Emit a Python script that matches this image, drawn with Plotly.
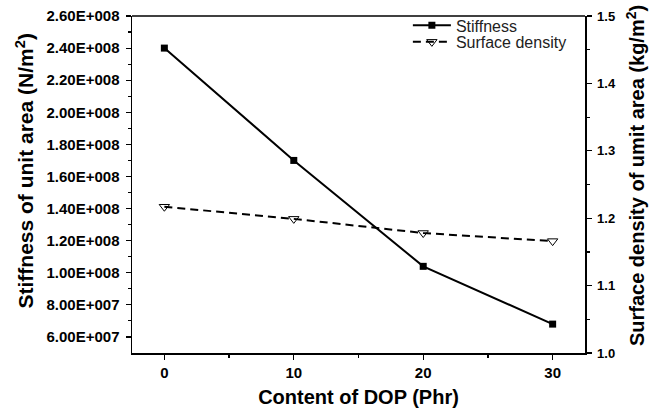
import plotly.graph_objects as go

dop = [0, 10, 20, 30]
stiffness = [2.40e8, 1.70e8, 1.04e8, 6.8e7]
surface_density = [1.217, 1.199, 1.178, 1.166]

left_tickvals = [6e7, 8e7, 1e8, 1.2e8, 1.4e8, 1.6e8, 1.8e8, 2.0e8, 2.2e8, 2.4e8, 2.6e8]
left_ticktext = ["6.00E+007", "8.00E+007", "1.00E+008", "1.20E+008", "1.40E+008",
                 "1.60E+008", "1.80E+008", "2.00E+008", "2.20E+008", "2.40E+008", "2.60E+008"]
left_minor = [7e7, 9e7, 1.1e8, 1.3e8, 1.5e8, 1.7e8, 1.9e8, 2.1e8, 2.3e8, 2.5e8]
x_tickvals = [0, 10, 20, 30]
right_tickvals = [1.0, 1.1, 1.2, 1.3, 1.4, 1.5]

FONT = "Liberation Sans, Arial, sans-serif"

fig = go.Figure()
fig.add_trace(go.Scatter(
    x=dop, y=stiffness, name="Stiffness", mode="lines+markers",
    line=dict(color="black", width=2),
    marker=dict(symbol="square", size=7, color="black"),
    yaxis="y", legend="legend"))
fig.add_trace(go.Scatter(
    x=dop, y=surface_density, name="Surface density", mode="lines+markers",
    line=dict(color="black", width=2, dash="8px,5px"),
    marker=dict(symbol="triangle-down-open", size=9, color="black", line=dict(width=1)),
    yaxis="y2", legend="legend2"))

axis_common = dict(showline=True, linecolor="black", linewidth=1.5, mirror=False,
                   ticks="outside", ticklen=5, tickwidth=1.2, tickcolor="black",
                   showgrid=False, zeroline=False, ticklabeloverflow="allow")

legend_common = dict(xanchor="left", yanchor="middle", bgcolor="rgba(0,0,0,0)",
                     font=dict(size=16, family=FONT, color="#222"), itemwidth=38)

fig.update_layout(
    width=652, height=416,
    margin=dict(l=132, r=67, t=16, b=63, autoexpand=False),
    paper_bgcolor="white", plot_bgcolor="white",
    font=dict(family=FONT, color="black"),
    hovermode=False,
    showlegend=True,
    legend=dict(x=0.609, y=0.972, **legend_common),
    legend2=dict(x=0.609, y=0.923, **legend_common),
    xaxis=dict(range=[-2.5, 32.5], tickvals=x_tickvals,
               tickfont=dict(size=15, family=FONT, weight="bold"),
               title=dict(text="<b>Content of DOP (Phr)</b>", font=dict(size=20), standoff=10),
               minor=dict(dtick=5, ticklen=3, tickwidth=1.2, tickcolor="black", ticks="outside"),
               **axis_common),
    yaxis=dict(range=[5e7, 2.6e8], tickvals=left_tickvals, ticktext=left_ticktext,
               tickfont=dict(size=15, family=FONT, weight="bold"),
               ticklabelstandoff=3,
               minor=dict(tickvals=left_minor, ticklen=3,
                          tickwidth=1.2, tickcolor="black", ticks="outside"),
               **axis_common),
    yaxis2=dict(range=[1.0, 1.5], tickvals=right_tickvals, tickformat=".1f",
                overlaying="y", side="right", anchor="x",
                tickfont=dict(size=13, family=FONT, weight="bold"),
                ticklabelstandoff=3,
                minor=dict(dtick=0.05, ticklen=3, tickwidth=1.2, tickcolor="black", ticks="outside"),
                **axis_common),
)
fig.add_annotation(text="<b>Stiffness of unit area (N/m<sup>2</sup>)</b>", textangle=-90,
                   xref="paper", yref="paper", x=0, y=0.5386, xanchor="center", yanchor="middle",
                   xshift=-107, showarrow=False, font=dict(size=21, family=FONT, color="black"))
fig.add_annotation(text="<b>Surface density of umit area (kg/m<sup>2</sup>)</b>", textangle=-90,
                   xref="paper", yref="paper", x=1, y=0.525, xanchor="center", yanchor="middle",
                   xshift=50, showarrow=False, font=dict(size=20, family=FONT, color="black"))
# top frame line
fig.add_shape(type="line", xref="paper", yref="paper", x0=0, x1=1, y0=1, y1=1,
              line=dict(color="black", width=1.5))

# remove the browser's default 8px body margin so the figure fills the window exactly
fig.write_html("out.html", config={"displayModeBar": False, "staticPlot": True},
               post_script="document.body.style.margin='0px';")
